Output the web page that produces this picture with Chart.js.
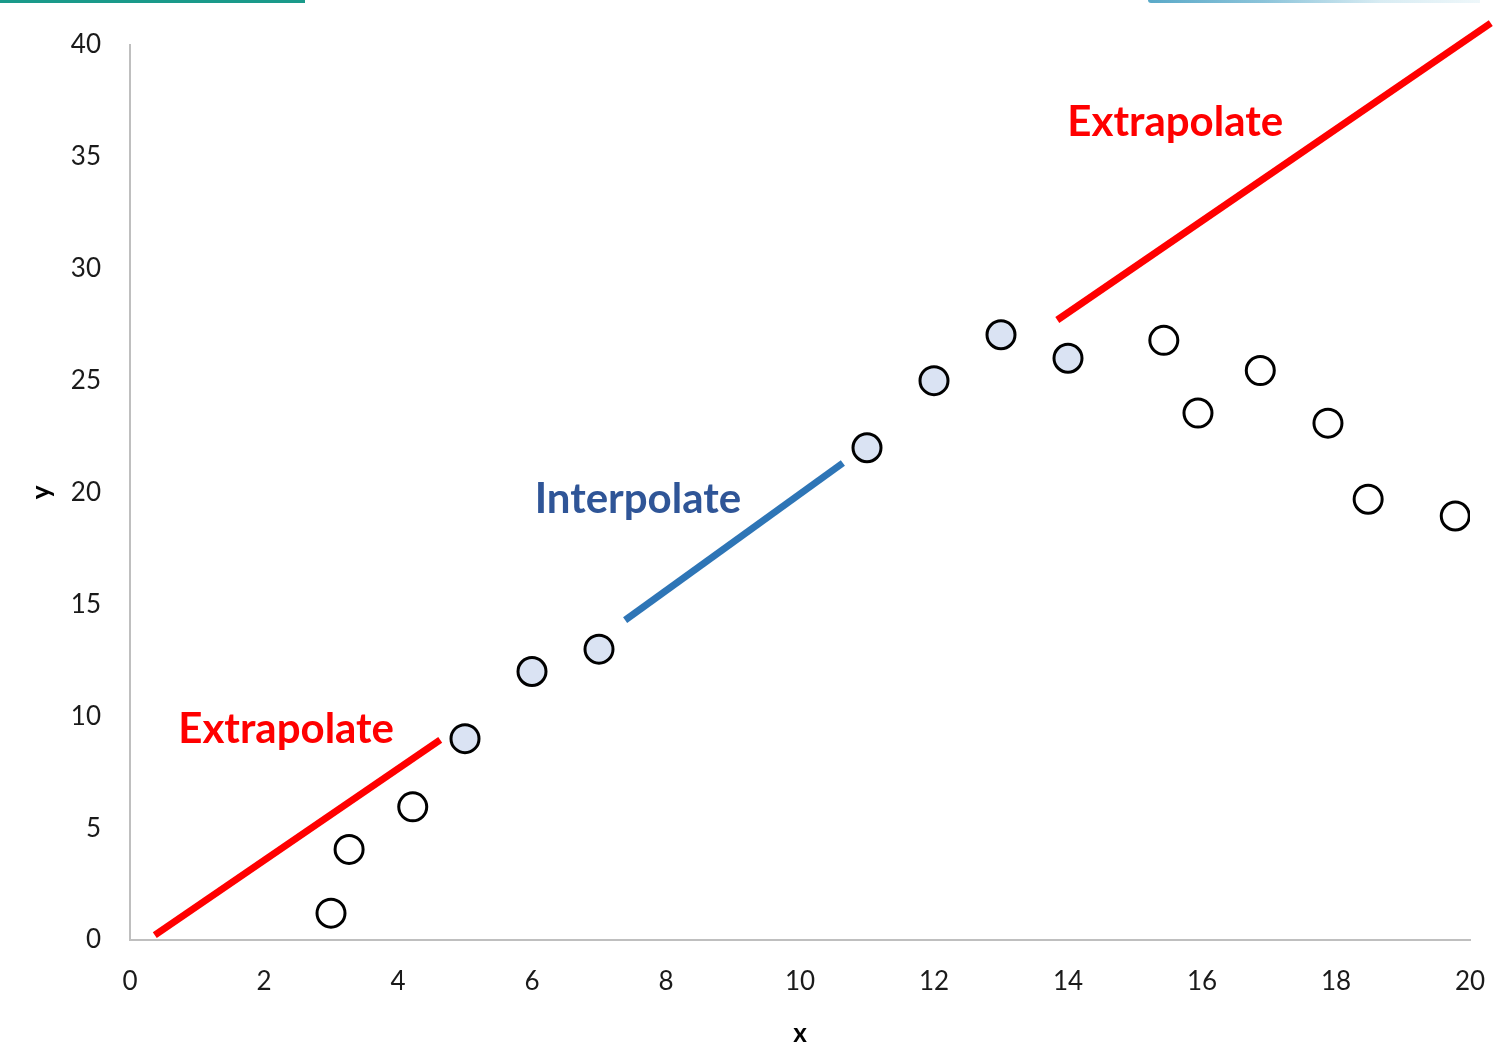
<!DOCTYPE html>
<html><head><meta charset="utf-8">
<script src="https://cdn.jsdelivr.net/npm/chart.js@4/dist/chart.umd.min.js"></script>
<style>
html,body{margin:0;padding:0;background:#fff;overflow:hidden}
#wrap{position:relative;width:1498px;height:1046px}
#c{position:absolute;left:0;top:0}
.deco1{position:absolute;left:0;top:0;width:305px;height:3px;background:#1a9a8a}
.deco2{position:absolute;left:1148px;top:0;width:332px;height:3px;border-radius:0 0 0 4px;background:linear-gradient(90deg,#5aa9c8 0%,#8cc4da 35%,#d8ecf3 70%,#eef7fa 100%)}
</style>
</head><body>
<div id="wrap"><canvas id="c" width="1498" height="1046"></canvas><div class="deco1"></div><div class="deco2"></div></div>
<script>
// ---- data ----
const xTicks = [0,2,4,6,8,10,12,14,16,18,20];
const yTicks = [0,5,10,15,20,25,30,35,40];
const openX = [3.0, 3.27, 4.22, 15.43, 15.94, 16.87, 17.88, 18.48, 19.78];
const openY = [1.2, 4.05, 5.95, 26.8, 23.55, 25.45, 23.1, 19.7, 18.95];
const filledX = [5, 6, 7, 11, 12, 13, 14];
const filledY = [9.0, 12.0, 13.0, 22.0, 25.0, 27.05, 26.0];
const extrapLowX = [0.37, 4.63];
const extrapLowY = [0.22, 8.94];
const interpX = [7.39, 10.64];
const interpY = [14.3, 21.32];
const extrapHighX = [13.84, 20.31];
const extrapHighY = [27.71, 40.98];
const noteText = ['Extrapolate', 'Interpolate', 'Extrapolate'];
const noteX = [0.72, 6.04, 13.99];
const noteY = [9.39, 19.71, 36.56];
const noteColor = ['#FF0000', '#2F5597', '#FF0000'];

const pts = (xs, ys) => xs.map((x, i) => ({x: x, y: ys[i]}));

const notesPlugin = {
  id: 'notes',
  afterDatasetsDraw(chart) {
    const {ctx, scales: {x, y}} = chart;
    ctx.save();
    ctx.font = 'bold 42px Lato';
    ctx.textAlign = 'left';
    ctx.textBaseline = 'middle';
    noteText.forEach((t, i) => {
      ctx.fillStyle = noteColor[i];
      ctx.fillText(t, x.getPixelForValue(noteX[i]), y.getPixelForValue(noteY[i]));
    });
    ctx.restore();
  }
};

const tickFont = {family: 'Lato', size: 26};
new Chart(document.getElementById('c'), {
  type: 'scatter',
  data: {
    datasets: [
      {data: pts(extrapLowX, extrapLowY), showLine: true, borderColor: '#FF0000', borderWidth: 7, pointRadius: 0, borderCapStyle: 'butt', order: 3},
      {data: pts(interpX, interpY), showLine: true, borderColor: '#2E75B6', borderWidth: 7, pointRadius: 0, borderCapStyle: 'butt', order: 3},
      {data: pts(extrapHighX, extrapHighY), showLine: true, borderColor: '#FF0000', borderWidth: 7, pointRadius: 0, borderCapStyle: 'butt', clip: false, order: 3},
      {data: pts(openX, openY), pointRadius: 14, pointBorderWidth: 3, pointBorderColor: '#000', pointBackgroundColor: '#FFFFFF', order: 1},
      {data: pts(filledX, filledY), pointRadius: 14, pointBorderWidth: 3, pointBorderColor: '#000', pointBackgroundColor: '#DAE3F3', order: 1}
    ]
  },
  options: {
    responsive: false,
    animation: false,
    events: [],
    layout: {padding: {left: 0, right: 28, top: 45, bottom: 0}},
    plugins: {legend: {display: false}, tooltip: {enabled: false}},
    scales: {
      x: {
        type: 'linear', min: 0, max: 20,
        afterBuildTicks: s => { s.ticks = xTicks.map(v => ({value: v})); },
        afterFit: s => { s.height = 106; s.paddingRight = 0; s.paddingLeft = 0; },
        grid: {display: false, drawTicks: false},
        border: {display: true, color: '#BFBFBF', width: 2},
        ticks: {font: tickFont, color: '#1a1a1a', padding: 26, maxRotation: 0, autoSkip: false},
        title: {display: true, text: 'x', font: {family: 'Lato', size: 26, weight: 'bold'}, color: '#000', padding: {top: 0, bottom: -3}}
      },
      y: {
        type: 'linear', min: 0, max: 40,
        afterBuildTicks: s => { s.ticks = yTicks.map(v => ({value: v})); },
        afterFit: s => { s.width = 130; s.paddingTop = 0; s.paddingBottom = 0; },
        grid: {display: false, drawTicks: false},
        border: {display: true, color: '#BFBFBF', width: 2},
        ticks: {font: tickFont, color: '#1a1a1a', padding: 29, autoSkip: false},
        title: {display: true, text: 'y', font: {family: 'Lato', size: 26, weight: 'bold'}, color: '#000', padding: {top: 26, bottom: 0}}
      }
    }
  },
  plugins: [notesPlugin]
});
</script>
</body></html>
